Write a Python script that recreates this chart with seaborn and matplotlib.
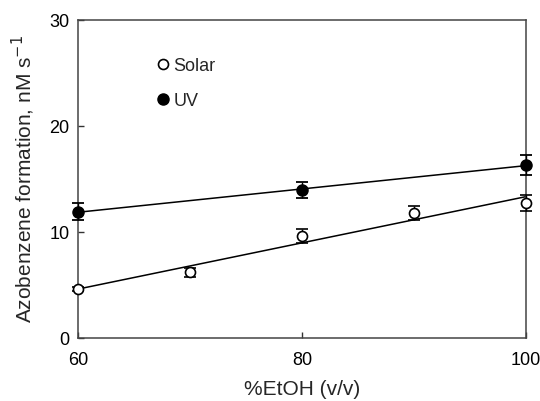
import matplotlib
matplotlib.use("Agg")
import matplotlib.pyplot as plt
from matplotlib.lines import Line2D
import numpy as np
import pandas as pd
import seaborn as sns

# Azobenzene formation rate vs ethanol content
solar_etoh = [60, 70, 80, 90, 100]
solar_rate = [4.6, 6.2, 9.6, 11.8, 12.7]
solar_err = [0.2, 0.45, 0.65, 0.7, 0.75]

uv_etoh = [60, 80, 100]
uv_rate = [11.9, 14.0, 16.3]
uv_err = [0.8, 0.75, 0.95]

x_ticks = [60, 80, 100]
y_ticks = [0, 10, 20, 30]

sns.set_theme(style="ticks")
plt.rcParams["font.family"] = ["Liberation Sans", "DejaVu Sans"]

fig = plt.figure(figsize=(5.4, 4.01), dpi=100)
ax = fig.add_axes([0.1444, 0.157, 0.8296, 0.793])

solar = pd.DataFrame({"etoh": solar_etoh, "rate": solar_rate})
uv = pd.DataFrame({"etoh": uv_etoh, "rate": uv_rate})

line_kws = dict(color="black", lw=1.1)
sns.regplot(data=solar, x="etoh", y="rate", ci=None, scatter=False,
            truncate=True, line_kws=line_kws, ax=ax)
sns.regplot(data=uv, x="etoh", y="rate", ci=None, scatter=False,
            truncate=True, line_kws=line_kws, ax=ax)

ax.errorbar(solar_etoh, solar_rate, yerr=solar_err, fmt="o", ms=7.2,
            mfc="white", mec="black", mew=1.2, ecolor="black",
            elinewidth=1.0, capsize=4.3, capthick=1.3, zorder=4,
            clip_on=False)
ax.errorbar(uv_etoh, uv_rate, yerr=uv_err, fmt="o", ms=8,
            mfc="black", mec="black", ecolor="black",
            elinewidth=1.0, capsize=4.3, capthick=1.3, zorder=4,
            clip_on=False)

ax.set_xlim(60, 100)
ax.set_ylim(0, 30)
ax.set_xticks(x_ticks)
ax.set_yticks(y_ticks)
ax.tick_params(direction="in", length=4, width=1, colors="#333333",
               labelsize=13, labelcolor="black")
ax.tick_params(axis="x", pad=10)
ax.tick_params(axis="y", pad=6)
for s in ax.spines.values():
    s.set_color("#444444")
    s.set_linewidth(1.1)

ax.set_xlabel("%EtOH (v/v)", fontsize=15, labelpad=8)
ax.set_ylabel("Azobenzene formation, nM s$^{-1}$", fontsize=15, labelpad=9)

handles = [
    Line2D([], [], ls="none", marker="o", ms=7.2, mfc="white",
           mec="black", mew=1.2),
    Line2D([], [], ls="none", marker="o", ms=8, mfc="black", mec="black"),
]
ax.legend(handles, ["Solar", "UV"], loc="upper left",
          bbox_to_anchor=(0.133, 0.933), frameon=False, fontsize=13,
          handletextpad=0.1, labelspacing=1.0, handlelength=1.0)

fig.savefig("out.png", dpi=100)
